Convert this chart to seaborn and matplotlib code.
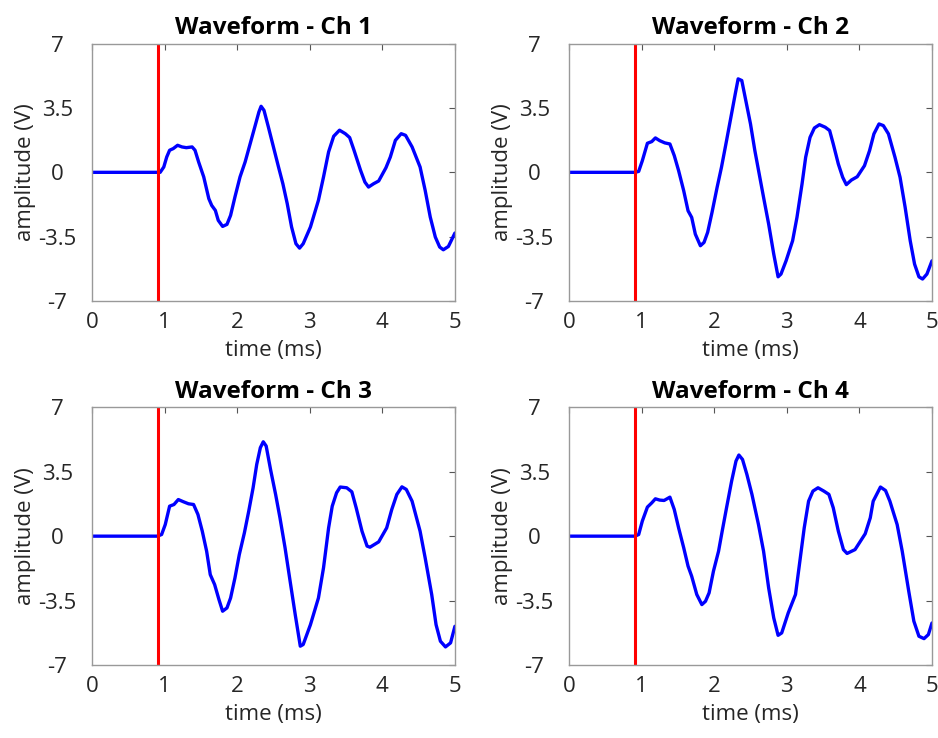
import matplotlib
matplotlib.use("Agg")
import matplotlib.pyplot as plt
import seaborn as sns
import pandas as pd

# Waveform samples (time in ms, amplitude in V)
t_ch1 = [0.0, 0.905, 0.94, 0.99, 1.03, 1.07, 1.12, 1.18, 1.24, 1.30, 1.38, 1.42, 1.47, 1.54,
         1.61, 1.65, 1.70, 1.74, 1.80, 1.86, 1.91, 1.97, 2.04, 2.11, 2.18, 2.25, 2.30, 2.33,
         2.37, 2.43, 2.50, 2.57, 2.63, 2.69, 2.75, 2.81, 2.86, 2.91, 3.01, 3.12, 3.19, 3.26,
         3.33, 3.41, 3.49, 3.55, 3.61, 3.70, 3.76, 3.81, 3.88, 3.95, 4.05, 4.11, 4.18, 4.26,
         4.32, 4.41, 4.52, 4.59, 4.66, 4.73, 4.79, 4.84, 4.91, 5.0]
v_ch1 = [0.0, 0.0, 0.0, 0.29, 0.83, 1.20, 1.29, 1.47, 1.38, 1.34, 1.38, 1.20, 0.56, -0.25,
         -1.43, -1.80, -2.07, -2.61, -2.94, -2.83, -2.34, -1.34, -0.25, 0.56, 1.56, 2.56, 3.28, 3.59,
         3.37, 2.47, 1.38, 0.29, -0.62, -1.70, -2.97, -3.88, -4.12, -3.88, -2.97, -1.52, -0.25, 1.11,
         1.96, 2.29, 2.10, 1.89, 1.20, 0.11, -0.53, -0.80, -0.62, -0.47, 0.25, 0.83, 1.74, 2.10,
         2.01, 1.38, 0.29, -0.98, -2.43, -3.52, -4.06, -4.21, -4.03, -3.30]

t_ch2 = [0.0, 0.91, 0.96, 1.01, 1.08, 1.14, 1.19, 1.25, 1.32, 1.39, 1.45, 1.51, 1.58, 1.64,
         1.69, 1.74, 1.81, 1.86, 1.91, 1.97, 2.04, 2.10, 2.17, 2.23, 2.29, 2.33, 2.38, 2.44,
         2.50, 2.56, 2.62, 2.68, 2.75, 2.82, 2.88, 2.92, 2.99, 3.08, 3.14, 3.21, 3.26, 3.32,
         3.38, 3.45, 3.53, 3.59, 3.64, 3.71, 3.77, 3.82, 3.89, 3.97, 4.07, 4.14, 4.20, 4.27,
         4.33, 4.40, 4.49, 4.56, 4.63, 4.70, 4.76, 4.82, 4.87, 4.93, 5.0]
v_ch2 = [0.0, 0.0, 0.05, 0.63, 1.58, 1.67, 1.87, 1.72, 1.60, 1.54, 0.91, 0.09, -1.0, -2.09,
         -2.45, -3.36, -3.99, -3.81, -3.26, -2.18, -0.82, 0.27, 1.72, 2.99, 4.26, 5.08, 4.99, 3.81,
         2.63, 1.18, -0.09, -1.36, -2.81, -4.44, -5.68, -5.53, -4.81, -3.72, -2.45, -0.63, 0.82, 1.90,
         2.41, 2.59, 2.45, 2.27, 1.54, 0.45, -0.27, -0.67, -0.42, -0.24, 0.36, 1.18, 2.09, 2.63,
         2.54, 2.09, 0.82, -0.27, -1.90, -3.72, -4.99, -5.68, -5.80, -5.53, -4.81]

t_ch3 = [0.0, 0.905, 0.96, 1.01, 1.07, 1.13, 1.19, 1.26, 1.33, 1.40, 1.46, 1.52, 1.58, 1.63,
         1.69, 1.75, 1.80, 1.86, 1.91, 1.97, 2.03, 2.10, 2.16, 2.22, 2.27, 2.32, 2.36, 2.40,
         2.46, 2.53, 2.59, 2.66, 2.73, 2.80, 2.87, 2.91, 3.01, 3.12, 3.19, 3.26, 3.31, 3.37,
         3.42, 3.51, 3.58, 3.64, 3.72, 3.79, 3.83, 3.95, 4.06, 4.13, 4.20, 4.27, 4.33, 4.41,
         4.52, 4.59, 4.68, 4.74, 4.80, 4.87, 4.94, 5.0]
v_ch3 = [0.0, 0.0, 0.09, 0.63, 1.63, 1.72, 1.99, 1.87, 1.76, 1.72, 1.18, 0.27, -0.82, -2.09,
         -2.63, -3.45, -4.08, -3.90, -3.36, -2.27, -1.00, 0.18, 1.36, 2.63, 3.90, 4.81, 5.13, 4.90,
         3.63, 2.27, 1.00, -0.63, -2.45, -4.26, -5.98, -5.89, -4.81, -3.36, -1.72, 0.45, 1.63, 2.36,
         2.67, 2.63, 2.41, 1.54, 0.27, -0.54, -0.60, -0.31, 0.45, 1.45, 2.27, 2.68, 2.54, 1.90,
         0.27, -1.18, -3.17, -4.81, -5.71, -6.02, -5.80, -4.90]

t_ch4 = [0.0, 0.91, 0.96, 1.01, 1.08, 1.14, 1.19, 1.25, 1.31, 1.39, 1.45, 1.51, 1.58, 1.64,
         1.69, 1.76, 1.83, 1.88, 1.93, 1.99, 2.06, 2.11, 2.17, 2.24, 2.30, 2.34, 2.39, 2.45,
         2.52, 2.61, 2.68, 2.75, 2.82, 2.88, 2.93, 3.02, 3.12, 3.18, 3.24, 3.30, 3.36, 3.43,
         3.51, 3.58, 3.64, 3.71, 3.78, 3.83, 3.94, 4.08, 4.15, 4.19, 4.29, 4.36, 4.42, 4.52,
         4.59, 4.68, 4.75, 4.82, 4.89, 4.95, 5.0]
v_ch4 = [0.0, 0.0, 0.09, 0.82, 1.58, 1.81, 2.03, 1.96, 1.94, 2.12, 1.45, 0.45, -0.63, -1.63,
         -2.18, -3.17, -3.72, -3.54, -3.08, -1.90, -0.82, 0.27, 1.54, 2.99, 4.08, 4.41, 4.17, 3.36,
         2.27, 0.63, -0.82, -2.81, -4.44, -5.39, -5.26, -4.17, -3.17, -1.36, 0.45, 1.90, 2.45, 2.63,
         2.45, 2.27, 1.54, 0.27, -0.73, -0.94, -0.73, 0.13, 1.00, 1.90, 2.67, 2.48, 1.90, 0.63,
         -0.82, -3.00, -4.62, -5.44, -5.57, -5.35, -4.72]

channels = ["Ch 1", "Ch 2", "Ch 3", "Ch 4"]
times = [t_ch1, t_ch2, t_ch3, t_ch4]
volts = [v_ch1, v_ch2, v_ch3, v_ch4]
trigger_ms = 0.91

xticks = [0, 1, 2, 3, 4, 5]
yticks = [-7, -3.5, 0, 3.5, 7]
yticklabels = ["-7", "-3.5", "0", "3.5", "7"]

sns.set_style("white")
plt.rcParams['font.family'] = ['Open Sans', 'DejaVu Sans']

fig = plt.figure(figsize=(9.38, 7.38), dpi=100)
lefts = [0.098, 0.6066, 0.098, 0.6066]
bottoms = [0.592, 0.592, 0.099, 0.099]
w, h = 0.387, 0.349
fs = 16

for i, ch in enumerate(channels):
    ax = fig.add_axes([lefts[i], bottoms[i], w, h])
    df = pd.DataFrame({"time": times[i], "amp": volts[i]})
    sns.lineplot(data=df, x="time", y="amp", ax=ax, color="#0000ff", linewidth=2.4,
                 estimator=None, sort=False)
    ax.lines[-1].set_solid_joinstyle("round")
    ax.axvline(trigger_ms, color="#ff0000", linewidth=2.2)
    ax.set_xlim(0, 5)
    ax.set_ylim(-7, 7)
    ax.set_xticks(xticks)
    ax.set_yticks(yticks)
    ax.set_yticklabels(yticklabels)
    ax.tick_params(direction="in", length=4, width=0.8, color="#555555",
                   top=True, right=True, labelsize=fs, labelcolor="#262626")
    ax.tick_params(axis="x", pad=8)
    ax.tick_params(axis="y", pad=25)
    for lab in ax.get_yticklabels():
        lab.set_horizontalalignment("center")
    for s in ax.spines.values():
        s.set_color("#999999")
        s.set_linewidth(1.0)
    ax.set_xlabel("time (ms)", fontsize=fs, color="#262626")
    ax.set_ylabel("amplitude (V)", fontsize=fs, color="#262626")
    ax.xaxis.set_label_coords(0.5, -0.15)
    ax.xaxis.label.set_verticalalignment("top")
    ax.yaxis.set_label_coords(-0.155, 0.5)
    ax.set_title("Waveform - " + ch, fontsize=17.5, fontweight="bold", pad=7, color="black")

fig.savefig("out.png", dpi=100)
